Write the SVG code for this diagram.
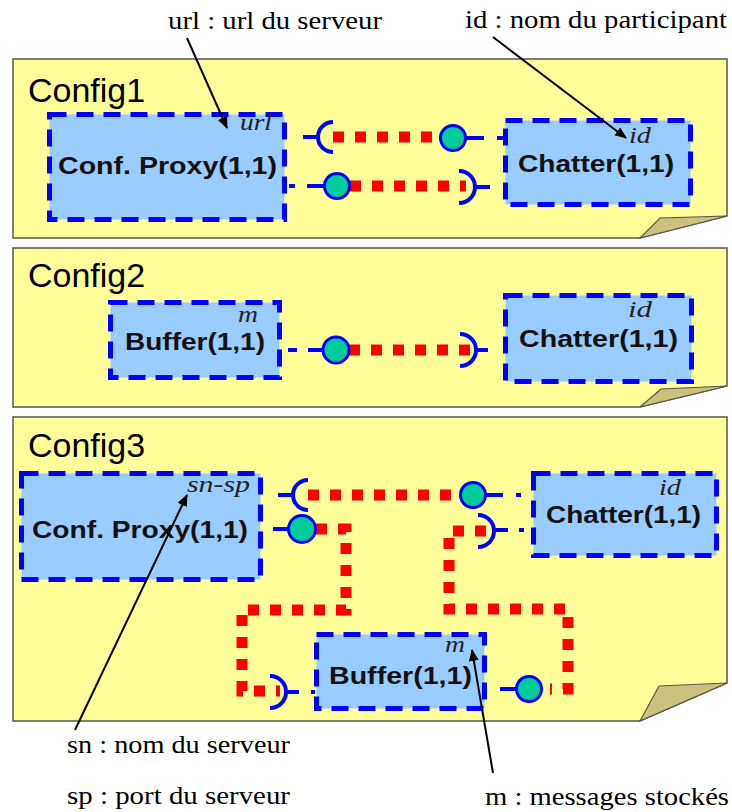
<svg xmlns="http://www.w3.org/2000/svg" width="732" height="812" viewBox="0 0 732 812">
<style>
.panel{fill:#FFFF99;stroke:#555;stroke-width:1.5}
.fold{fill:#CBC37D;stroke:#555;stroke-width:1.2}
.ptitle{font-family:"Liberation Sans",Arial,sans-serif;font-size:34px;fill:#000}
.box{fill:#99CCFF;stroke:#0000FF;stroke-width:5;stroke-dasharray:17 10}
.lbl{font-family:"Liberation Sans",Arial,sans-serif;font-size:24px;font-weight:bold;fill:#111}
.par{font-family:"Liberation Serif","Times New Roman",serif;font-size:24px;font-style:italic;fill:#222}
.ann{font-family:"Liberation Serif","Times New Roman",serif;font-size:26px;fill:#000}
.red{fill:none;stroke:#FF0000;stroke-width:11;stroke-dasharray:11 11}
.stub{stroke:#0000FF;stroke-width:4;fill:none}
.sock{stroke:#0000FF;stroke-width:4;fill:none}
.lolli{fill:#00CC99;stroke:#0000FF;stroke-width:3}
.arr{stroke:#000;stroke-width:2;fill:none;marker-end:url(#ah)}
</style>
<defs>
<marker id="ah" viewBox="0 0 12 10" refX="11" refY="5" markerWidth="12" markerHeight="10" markerUnits="userSpaceOnUse" orient="auto">
<path d="M0,0 L12,5 L0,10 Z" fill="#000"/>
</marker>
</defs>
<rect width="732" height="812" fill="#FFFFFF"/>

<g id="panels">
<polygon class="panel" points="13,59 727,59 727,216 640,238 13,238"/>
<polygon class="fold" points="640,238 660,218 727,216"/>
<text class="ptitle" x="28" y="102">Config1</text>
<polygon class="panel" points="13,248 727,248 727,386 640,407 13,407"/>
<polygon class="fold" points="640,407 661,389 727,386"/>
<text class="ptitle" x="28" y="287">Config2</text>
<polygon class="panel" points="13,417 727,417 727,683 640,721 13,721"/>
<polygon class="fold" points="640,721 659,686 727,683"/>
<text class="ptitle" x="28" y="457">Config3</text>
</g>

<g id="connectors">
<path class="red" d="M333,137 H441"/>
<path class="red" d="M350,186 H466"/>
<path class="red" d="M349,350 H470"/>
<path class="red" d="M308,495 H461"/>
<path class="red" d="M316,529 H346 V610 H242 V691 H280"/>
<path class="red" d="M486,531 H449 V609 H568 V689 H550"/>

<path class="stub" d="M303,137 H320 M466,138 H484 M497,138 H503"/>
<path class="stub" d="M289,186 H295 M307,186 H325 M474,187 H490"/>
<path class="stub" d="M288,350 H297 M308,350 H323 M477,350 H488"/>
<path class="stub" d="M278,495 H293 M486,495 H503 M516,495 H521"/>
<path class="stub" d="M273,529 H288 M494,530 H508 M519,530 H524"/>
<path class="stub" d="M285,692 H299 M311,692 H315 M500,689 H516"/>

<path class="sock" d="M333,122 A15,15 0 0 0 333,152"/>
<path class="sock" d="M459,171 A16,16 0 0 1 459,203"/>
<path class="sock" d="M460,334 A16,16 0 0 1 460,366"/>
<path class="sock" d="M308,480 A15,15 0 0 0 308,510"/>
<path class="sock" d="M478,515 A16,16 0 0 1 478,547"/>
<path class="sock" d="M270,676 A16,16 0 0 1 270,708"/>

<circle class="lolli" cx="453" cy="138" r="12.5"/>
<circle class="lolli" cx="337" cy="186" r="12.5"/>
<circle class="lolli" cx="336" cy="350" r="13"/>
<circle class="lolli" cx="473" cy="495" r="12.5"/>
<circle class="lolli" cx="302" cy="529" r="13.5"/>
<circle class="lolli" cx="529" cy="689" r="12.5"/>
</g>

<g id="c1-proxy">
<rect class="box" x="49.5" y="114.5" width="235" height="105"/>
<text class="par" x="240" y="130" textLength="32" lengthAdjust="spacingAndGlyphs">url</text>
<text class="lbl" x="58" y="174" textLength="219" lengthAdjust="spacingAndGlyphs">Conf. Proxy(1,1)</text>
</g>
<g id="c1-chatter">
<rect class="box" x="505.5" y="120.5" width="185" height="84"/>
<text class="par" x="629" y="143" textLength="22" lengthAdjust="spacingAndGlyphs">id</text>
<text class="lbl" x="518" y="172" textLength="156" lengthAdjust="spacingAndGlyphs">Chatter(1,1)</text>
</g>
<g id="c2-buffer">
<rect class="box" x="110.5" y="302.5" width="169" height="75"/>
<text class="par" x="238" y="322" textLength="20" lengthAdjust="spacingAndGlyphs">m</text>
<text class="lbl" x="125" y="350" textLength="140" lengthAdjust="spacingAndGlyphs">Buffer(1,1)</text>
</g>
<g id="c2-chatter">
<rect class="box" x="505.5" y="295.5" width="186" height="86"/>
<text class="par" x="628" y="317" textLength="24" lengthAdjust="spacingAndGlyphs">id</text>
<text class="lbl" x="519" y="347" textLength="159" lengthAdjust="spacingAndGlyphs">Chatter(1,1)</text>
</g>
<g id="c3-proxy">
<rect class="box" x="21.5" y="473.5" width="239" height="106"/>
<text class="par" x="187" y="492" textLength="63" lengthAdjust="spacingAndGlyphs">sn-sp</text>
<text class="lbl" x="32" y="538" textLength="216" lengthAdjust="spacingAndGlyphs">Conf. Proxy(1,1)</text>
</g>
<g id="c3-chatter">
<rect class="box" x="533.5" y="473.5" width="183" height="82"/>
<text class="par" x="659" y="495" font-size="22" textLength="22" lengthAdjust="spacingAndGlyphs">id</text>
<text class="lbl" x="546" y="523" textLength="155" lengthAdjust="spacingAndGlyphs">Chatter(1,1)</text>
</g>
<g id="c3-buffer">
<rect class="box" x="316.5" y="634.5" width="168" height="74"/>
<text class="par" x="445" y="652" textLength="20" lengthAdjust="spacingAndGlyphs">m</text>
<text class="lbl" x="329" y="684" textLength="143" lengthAdjust="spacingAndGlyphs">Buffer(1,1)</text>
</g>

<g id="annotations">
<text class="ann" x="168" y="29" textLength="214" lengthAdjust="spacingAndGlyphs">url : url du serveur</text>
<text class="ann" x="465" y="28" textLength="262" lengthAdjust="spacingAndGlyphs">id : nom du participant</text>
<text class="ann" x="67" y="753" textLength="223" lengthAdjust="spacingAndGlyphs">sn : nom du serveur</text>
<text class="ann" x="67" y="804" textLength="223" lengthAdjust="spacingAndGlyphs">sp : port du serveur</text>
<text class="ann" x="485" y="805" textLength="244" lengthAdjust="spacingAndGlyphs">m : messages stockés</text>
<line class="arr" x1="187" y1="38" x2="227" y2="128"/>
<line class="arr" x1="493" y1="37" x2="626" y2="138"/>
<line class="arr" x1="75" y1="730" x2="187" y2="495"/>
<line class="arr" x1="493" y1="773" x2="472" y2="650"/>
</g>
</svg>
